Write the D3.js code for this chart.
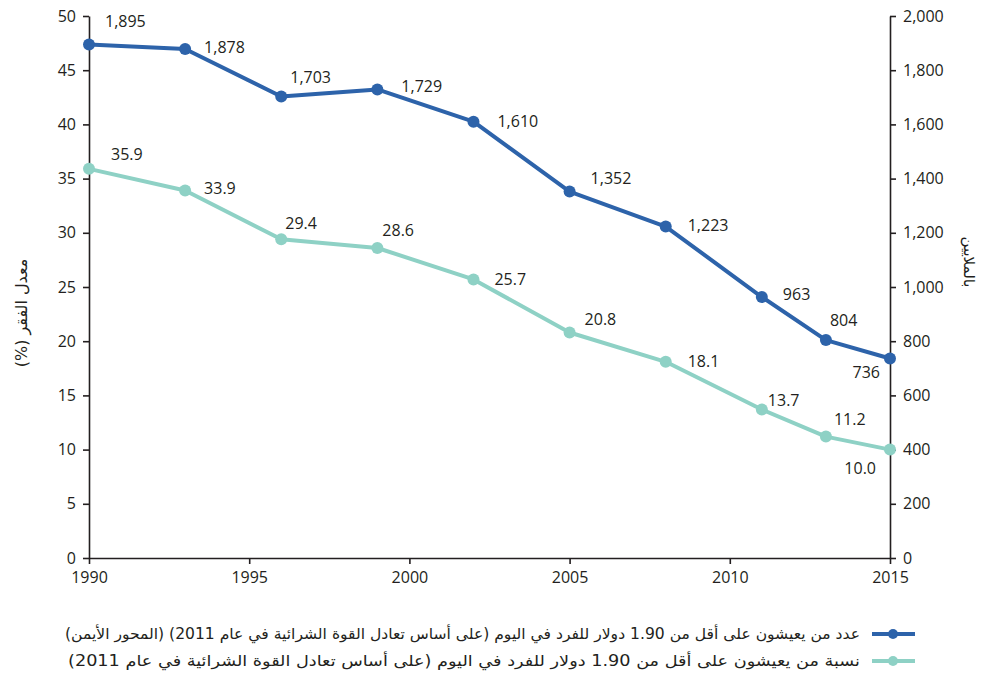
<!DOCTYPE html>
<html><head><meta charset="utf-8">
<script src="https://cdn.jsdelivr.net/npm/d3@7"></script>
<style>body{margin:0;background:#fff}svg{display:block}</style>
</head><body>
<svg id="c" width="1004" height="688"></svg>
<script>
const years = [1990, 1993, 1996, 1999, 2002, 2005, 2008, 2011, 2013, 2015];
const millions = [1895, 1878, 1703, 1729, 1610, 1352, 1223, 963, 804, 736];
const rates = [35.9, 33.9, 29.4, 28.6, 25.7, 20.8, 18.1, 13.7, 11.2, 10.0];
const xTicks = [1990, 1995, 2000, 2005, 2010, 2015];
const leftTicks = [0, 5, 10, 15, 20, 25, 30, 35, 40, 45, 50];
const rightTicks = [0, 200, 400, 600, 800, 1000, 1200, 1400, 1600, 1800, 2000];
const leftTitle = "معدل الفقر (%)";
const rightTitle = "بالملايين";
const legendLabels = [
  "عدد من يعيشون على أقل من 1.90 دولار للفرد في اليوم (على أساس تعادل القوة الشرائية في عام 2011) (المحور الأيمن)",
  "نسبة من يعيشون على أقل من 1.90 دولار للفرد في اليوم (على أساس تعادل القوة الشرائية في عام 2011)"
];
// label placement offsets (styling)
const millionsOff = [[16,-22,"start"],[19,0,"start"],[9,-18,"start"],[24,-2,"start"],[24,1,"start"],[21,-12,"start"],[22,0,"start"],[21,-1,"start"],[4,-18,"start"],[-10,15,"end"]];
const ratesOff = [[22,-13,"start"],[19,-1,"start"],[4,-15,"start"],[5,-16,"start"],[21,1,"start"],[15,-12,"start"],[22,1,"start"],[6,-8,"start"],[8,-16,"start"],[-14,20,"end"]];
const legendWidths = [795, 792];

const blue = "#2d63aa", teal = "#8ed1c5", ink = "#231f20";
const font = "'Open Sans', 'Noto Sans', sans-serif";
const arFont = "'DejaVu Sans', sans-serif";

const svg = d3.select("#c");
const x = d3.scaleLinear().domain([1990, 2015]).range([89, 890]);
const yL = d3.scaleLinear().domain([0, 50]).range([558, 16]);
const yR = d3.scaleLinear().domain([0, 2000]).range([558, 16]);

function styleAxis(g){
  g.selectAll("path,line").attr("stroke", ink).attr("stroke-width", 1.6);
  g.selectAll("text").attr("fill", ink).style("font-family", font).style("font-size", "16px");
}
svg.append("g").attr("transform","translate(0,558)")
  .call(d3.axisBottom(x).tickValues(xTicks).tickFormat(d3.format("d")).tickSizeInner(6).tickSizeOuter(0).tickPadding(8))
  .call(styleAxis);
svg.append("g").attr("transform","translate(89,0)")
  .call(d3.axisLeft(yL).tickValues(leftTicks).tickSizeInner(6).tickSizeOuter(0).tickPadding(7))
  .call(styleAxis);
svg.append("g").attr("transform","translate(890,0)")
  .call(d3.axisRight(yR).tickValues(rightTicks).tickFormat(d3.format(",")).tickSizeInner(6).tickSizeOuter(0).tickPadding(7))
  .call(styleAxis);

svg.append("text").attr("transform","translate(22,313) rotate(-90)")
  .attr("direction","rtl").attr("text-anchor","middle").attr("dominant-baseline","middle")
  .style("font-family", arFont).style("font-size","16px").attr("fill", ink).text(leftTitle);
svg.append("text").attr("transform","translate(968,262) rotate(90)")
  .attr("direction","rtl").attr("text-anchor","middle").attr("dominant-baseline","middle")
  .style("font-family", arFont).style("font-size","15px").attr("fill", ink).text(rightTitle);

function series(vals, yS, color, offs, fmt){
  const pts = years.map((yr,i)=>[x(yr), yS(vals[i])]);
  svg.append("path").attr("d", d3.line()(pts)).attr("fill","none")
    .attr("stroke", color).attr("stroke-width", 4).attr("stroke-linejoin","round");
  svg.selectAll(null).data(pts).enter().append("circle")
    .attr("cx", d=>d[0]).attr("cy", d=>d[1]).attr("r", 6).attr("fill", color);
  svg.selectAll(null).data(pts).enter().append("text")
    .attr("x", (d,i)=>d[0]+offs[i][0]).attr("y", (d,i)=>d[1]+offs[i][1])
    .attr("text-anchor", (d,i)=>offs[i][2]).attr("dominant-baseline","middle")
    .style("font-family", font).style("font-size","16px").attr("fill", ink)
    .text((d,i)=>fmt(vals[i]));
}
series(millions, yR, blue, millionsOff, d3.format(","));
series(rates, yL, teal, ratesOff, d3.format(".1f"));

const legColors = [blue, teal];
legendLabels.forEach((t,i)=>{
  const ly = 634 + i*27;
  svg.append("line").attr("x1",872).attr("x2",915).attr("y1",ly).attr("y2",ly)
    .attr("stroke", legColors[i]).attr("stroke-width",4);
  svg.append("circle").attr("cx",893).attr("cy",ly).attr("r",5).attr("fill",legColors[i]);
  svg.append("text").attr("x",860).attr("y",ly).attr("direction","rtl").attr("text-anchor","start")
    .attr("dominant-baseline","middle").style("font-family", arFont).style("font-size","15px")
    .attr("textLength", legendWidths[i]).attr("lengthAdjust","spacingAndGlyphs")
    .attr("fill", ink).text(t);
});
</script>
</body></html>
